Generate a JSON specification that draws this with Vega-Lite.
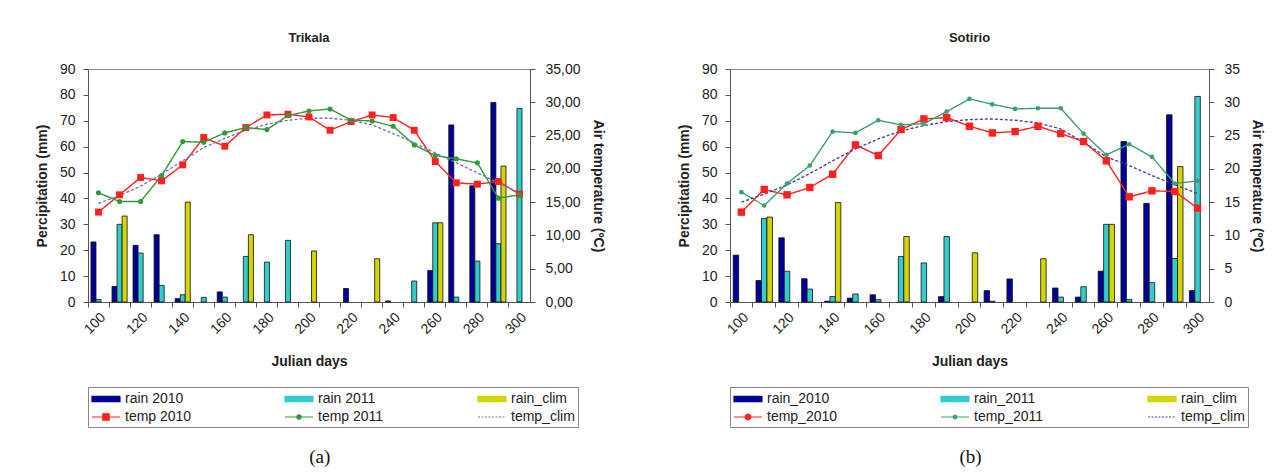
{
  "$schema": "https://vega.github.io/schema/vega-lite/v6.json",
  "background": "white",
  "padding": {"left": 34, "top": 31, "right": 5, "bottom": 0},
  "spacing": 71,
  "config": {
    "font": "Liberation Sans",
    "view": {"stroke": "#8a8a8a", "strokeWidth": 1},
    "axis": {
      "labelFont": "Liberation Sans", "labelFontSize": 14, "labelColor": "#222",
      "titleFont": "Liberation Sans", "titleFontSize": 14, "titleFontWeight": "bold", "titleColor": "#222",
      "domainColor": "#555", "tickColor": "#555", "grid": false, "tickSize": 5
    },
    "legend": {
      "orient": "bottom", "direction": "horizontal", "columns": 3, "gridAlign": "all",
      "symbolSize": 256, "symbolStrokeWidth": 1.2, "labelFont": "Liberation Sans", "labelFontSize": 14,
      "labelColor": "#222", "strokeColor": "#888", "padding": 3, "rowPadding": 2, "labelOffset": 16,
      "offset": 18
    },
    "title": {"font": "Liberation Sans", "fontSize": 13, "fontWeight": "bold", "color": "#222", "offset": 17}
  },
  "datasets": {
    "trikala_rain": [
      {"day": 100, "series": "rain 2010", "value": 23.2}, {"day": 100, "series": "rain 2011", "value": 1.0},
      {"day": 110, "series": "rain 2010", "value": 6.0}, {"day": 110, "series": "rain 2011", "value": 30.0}, {"day": 110, "series": "rain_clim", "value": 33.2},
      {"day": 120, "series": "rain 2010", "value": 21.9}, {"day": 120, "series": "rain 2011", "value": 18.9},
      {"day": 130, "series": "rain 2010", "value": 26.0}, {"day": 130, "series": "rain 2011", "value": 6.4},
      {"day": 140, "series": "rain 2010", "value": 1.3}, {"day": 140, "series": "rain 2011", "value": 2.8}, {"day": 140, "series": "rain_clim", "value": 38.6},
      {"day": 150, "series": "rain 2011", "value": 1.8},
      {"day": 160, "series": "rain 2010", "value": 3.9}, {"day": 160, "series": "rain 2011", "value": 1.9},
      {"day": 170, "series": "rain 2011", "value": 17.6}, {"day": 170, "series": "rain_clim", "value": 26.0},
      {"day": 180, "series": "rain 2011", "value": 15.4},
      {"day": 190, "series": "rain 2011", "value": 23.8},
      {"day": 200, "series": "rain_clim", "value": 19.7},
      {"day": 220, "series": "rain 2010", "value": 5.2},
      {"day": 230, "series": "rain_clim", "value": 16.7},
      {"day": 240, "series": "rain 2010", "value": 0.4},
      {"day": 250, "series": "rain 2011", "value": 8.1},
      {"day": 260, "series": "rain 2010", "value": 12.2}, {"day": 260, "series": "rain 2011", "value": 30.6}, {"day": 260, "series": "rain_clim", "value": 30.6},
      {"day": 270, "series": "rain 2010", "value": 68.4}, {"day": 270, "series": "rain 2011", "value": 1.9},
      {"day": 280, "series": "rain 2010", "value": 44.9}, {"day": 280, "series": "rain 2011", "value": 15.8},
      {"day": 290, "series": "rain 2010", "value": 77.1}, {"day": 290, "series": "rain 2011", "value": 22.5}, {"day": 290, "series": "rain_clim", "value": 52.5},
      {"day": 300, "series": "rain 2011", "value": 74.8}
    ],
    "trikala_temp": [
      {"day": 100, "series": "temp 2010", "t": 13.5}, {"day": 110, "series": "temp 2010", "t": 16.1}, {"day": 120, "series": "temp 2010", "t": 18.7},
      {"day": 130, "series": "temp 2010", "t": 18.2}, {"day": 140, "series": "temp 2010", "t": 20.6}, {"day": 150, "series": "temp 2010", "t": 24.7},
      {"day": 160, "series": "temp 2010", "t": 23.4}, {"day": 170, "series": "temp 2010", "t": 26.2}, {"day": 180, "series": "temp 2010", "t": 28.1},
      {"day": 190, "series": "temp 2010", "t": 28.2}, {"day": 200, "series": "temp 2010", "t": 27.8}, {"day": 210, "series": "temp 2010", "t": 25.8},
      {"day": 220, "series": "temp 2010", "t": 27.1}, {"day": 230, "series": "temp 2010", "t": 28.1}, {"day": 240, "series": "temp 2010", "t": 27.7},
      {"day": 250, "series": "temp 2010", "t": 25.8}, {"day": 260, "series": "temp 2010", "t": 21.1}, {"day": 270, "series": "temp 2010", "t": 17.9},
      {"day": 280, "series": "temp 2010", "t": 17.7}, {"day": 290, "series": "temp 2010", "t": 18.1}, {"day": 300, "series": "temp 2010", "t": 16.2},
      {"day": 100, "series": "temp 2011", "t": 16.4}, {"day": 110, "series": "temp 2011", "t": 15.1}, {"day": 120, "series": "temp 2011", "t": 15.1},
      {"day": 130, "series": "temp 2011", "t": 19.0}, {"day": 140, "series": "temp 2011", "t": 24.1}, {"day": 150, "series": "temp 2011", "t": 24.0},
      {"day": 160, "series": "temp 2011", "t": 25.4}, {"day": 170, "series": "temp 2011", "t": 26.2}, {"day": 180, "series": "temp 2011", "t": 25.9},
      {"day": 190, "series": "temp 2011", "t": 28.0}, {"day": 200, "series": "temp 2011", "t": 28.7}, {"day": 210, "series": "temp 2011", "t": 29.0},
      {"day": 220, "series": "temp 2011", "t": 27.3}, {"day": 230, "series": "temp 2011", "t": 27.2}, {"day": 240, "series": "temp 2011", "t": 26.4},
      {"day": 250, "series": "temp 2011", "t": 23.6}, {"day": 260, "series": "temp 2011", "t": 22.0}, {"day": 270, "series": "temp 2011", "t": 21.5},
      {"day": 280, "series": "temp 2011", "t": 20.9}, {"day": 290, "series": "temp 2011", "t": 15.6}, {"day": 300, "series": "temp 2011", "t": 16.1},
      {"day": 100, "series": "temp_clim", "t": 14.8}, {"day": 110, "series": "temp_clim", "t": 16.0}, {"day": 120, "series": "temp_clim", "t": 17.4},
      {"day": 130, "series": "temp_clim", "t": 19.2}, {"day": 140, "series": "temp_clim", "t": 21.2}, {"day": 150, "series": "temp_clim", "t": 23.2},
      {"day": 160, "series": "temp_clim", "t": 24.6}, {"day": 170, "series": "temp_clim", "t": 25.8}, {"day": 180, "series": "temp_clim", "t": 26.7},
      {"day": 190, "series": "temp_clim", "t": 27.3}, {"day": 200, "series": "temp_clim", "t": 27.6}, {"day": 210, "series": "temp_clim", "t": 27.6},
      {"day": 220, "series": "temp_clim", "t": 27.3}, {"day": 230, "series": "temp_clim", "t": 26.6}, {"day": 240, "series": "temp_clim", "t": 25.3},
      {"day": 250, "series": "temp_clim", "t": 23.9}, {"day": 260, "series": "temp_clim", "t": 22.4}, {"day": 270, "series": "temp_clim", "t": 20.9},
      {"day": 280, "series": "temp_clim", "t": 19.4}, {"day": 290, "series": "temp_clim", "t": 17.9}, {"day": 300, "series": "temp_clim", "t": 16.4}
    ],
    "sotirio_rain": [
      {"day": 100, "series": "rain_2010", "value": 18.1},
      {"day": 110, "series": "rain_2010", "value": 8.3}, {"day": 110, "series": "rain_2011", "value": 32.3}, {"day": 110, "series": "rain_clim", "value": 32.8},
      {"day": 120, "series": "rain_2010", "value": 24.8}, {"day": 120, "series": "rain_2011", "value": 11.9},
      {"day": 130, "series": "rain_2010", "value": 9.0}, {"day": 130, "series": "rain_2011", "value": 5.0},
      {"day": 140, "series": "rain_2010", "value": 0.3}, {"day": 140, "series": "rain_2011", "value": 2.1}, {"day": 140, "series": "rain_clim", "value": 38.4},
      {"day": 150, "series": "rain_2010", "value": 1.5}, {"day": 150, "series": "rain_2011", "value": 3.1},
      {"day": 160, "series": "rain_2010", "value": 2.8}, {"day": 160, "series": "rain_2011", "value": 0.9},
      {"day": 170, "series": "rain_2011", "value": 17.6}, {"day": 170, "series": "rain_clim", "value": 25.3},
      {"day": 180, "series": "rain_2011", "value": 15.1},
      {"day": 190, "series": "rain_2010", "value": 2.1}, {"day": 190, "series": "rain_2011", "value": 25.3},
      {"day": 200, "series": "rain_clim", "value": 19.0},
      {"day": 210, "series": "rain_2010", "value": 4.4}, {"day": 210, "series": "rain_2011", "value": 0.3},
      {"day": 220, "series": "rain_2010", "value": 8.9},
      {"day": 230, "series": "rain_clim", "value": 16.7},
      {"day": 240, "series": "rain_2010", "value": 5.4}, {"day": 240, "series": "rain_2011", "value": 1.9},
      {"day": 250, "series": "rain_2010", "value": 1.9}, {"day": 250, "series": "rain_2011", "value": 5.9},
      {"day": 260, "series": "rain_2010", "value": 11.9}, {"day": 260, "series": "rain_2011", "value": 30.0}, {"day": 260, "series": "rain_clim", "value": 30.0},
      {"day": 270, "series": "rain_2010", "value": 62.0}, {"day": 270, "series": "rain_2011", "value": 1.0},
      {"day": 280, "series": "rain_2010", "value": 38.1}, {"day": 280, "series": "rain_2011", "value": 7.5},
      {"day": 290, "series": "rain_2010", "value": 72.3}, {"day": 290, "series": "rain_2011", "value": 16.8}, {"day": 290, "series": "rain_clim", "value": 52.3},
      {"day": 300, "series": "rain_2010", "value": 4.4}, {"day": 300, "series": "rain_2011", "value": 79.4}
    ],
    "sotirio_temp": [
      {"day": 100, "series": "temp_2010", "t": 13.5}, {"day": 110, "series": "temp_2010", "t": 16.9}, {"day": 120, "series": "temp_2010", "t": 16.1},
      {"day": 130, "series": "temp_2010", "t": 17.2}, {"day": 140, "series": "temp_2010", "t": 19.2}, {"day": 150, "series": "temp_2010", "t": 23.6},
      {"day": 160, "series": "temp_2010", "t": 22.0}, {"day": 170, "series": "temp_2010", "t": 25.9}, {"day": 180, "series": "temp_2010", "t": 27.5},
      {"day": 190, "series": "temp_2010", "t": 27.7}, {"day": 200, "series": "temp_2010", "t": 26.4}, {"day": 210, "series": "temp_2010", "t": 25.4},
      {"day": 220, "series": "temp_2010", "t": 25.6}, {"day": 230, "series": "temp_2010", "t": 26.4}, {"day": 240, "series": "temp_2010", "t": 25.3},
      {"day": 250, "series": "temp_2010", "t": 24.1}, {"day": 260, "series": "temp_2010", "t": 21.2}, {"day": 270, "series": "temp_2010", "t": 15.8},
      {"day": 280, "series": "temp_2010", "t": 16.7}, {"day": 290, "series": "temp_2010", "t": 16.6}, {"day": 300, "series": "temp_2010", "t": 14.1},
      {"day": 100, "series": "temp_2011", "t": 16.5}, {"day": 110, "series": "temp_2011", "t": 14.5}, {"day": 120, "series": "temp_2011", "t": 17.8},
      {"day": 130, "series": "temp_2011", "t": 20.5}, {"day": 140, "series": "temp_2011", "t": 25.6}, {"day": 150, "series": "temp_2011", "t": 25.4},
      {"day": 160, "series": "temp_2011", "t": 27.3}, {"day": 170, "series": "temp_2011", "t": 26.6}, {"day": 180, "series": "temp_2011", "t": 26.8},
      {"day": 190, "series": "temp_2011", "t": 28.6}, {"day": 200, "series": "temp_2011", "t": 30.5}, {"day": 210, "series": "temp_2011", "t": 29.7},
      {"day": 220, "series": "temp_2011", "t": 29.0}, {"day": 230, "series": "temp_2011", "t": 29.1}, {"day": 240, "series": "temp_2011", "t": 29.1},
      {"day": 250, "series": "temp_2011", "t": 25.3}, {"day": 260, "series": "temp_2011", "t": 22.1}, {"day": 270, "series": "temp_2011", "t": 23.7},
      {"day": 280, "series": "temp_2011", "t": 21.8}, {"day": 290, "series": "temp_2011", "t": 17.8}, {"day": 300, "series": "temp_2011", "t": 18.2},
      {"day": 100, "series": "temp_clim", "t": 15.0}, {"day": 110, "series": "temp_clim", "t": 16.2}, {"day": 120, "series": "temp_clim", "t": 17.6},
      {"day": 130, "series": "temp_clim", "t": 19.3}, {"day": 140, "series": "temp_clim", "t": 21.2}, {"day": 150, "series": "temp_clim", "t": 23.0},
      {"day": 160, "series": "temp_clim", "t": 24.5}, {"day": 170, "series": "temp_clim", "t": 25.7}, {"day": 180, "series": "temp_clim", "t": 26.5},
      {"day": 190, "series": "temp_clim", "t": 27.1}, {"day": 200, "series": "temp_clim", "t": 27.4}, {"day": 210, "series": "temp_clim", "t": 27.5},
      {"day": 220, "series": "temp_clim", "t": 27.3}, {"day": 230, "series": "temp_clim", "t": 26.9}, {"day": 240, "series": "temp_clim", "t": 26.0},
      {"day": 250, "series": "temp_clim", "t": 24.0}, {"day": 260, "series": "temp_clim", "t": 21.8}, {"day": 270, "series": "temp_clim", "t": 20.5},
      {"day": 280, "series": "temp_clim", "t": 19.0}, {"day": 290, "series": "temp_clim", "t": 17.6}, {"day": 300, "series": "temp_clim", "t": 16.3}
    ]
  },
  "hconcat": [
    {
      "title": {"text": "(a)", "orient": "bottom", "anchor": "middle", "font": "Liberation Serif", "fontSize": 19, "fontWeight": "normal", "color": "#111", "offset": 20},
      "vconcat": [
        {
          "title": {"text": "Trikala"},
          "width": 442, "height": 233,
          "layer": [
            {
              "data": {"name": "trikala_rain"},
              "mark": {"type": "bar", "stroke": "#111", "strokeWidth": 0.8},
              "encoding": {
                "x": {"field": "day", "type": "ordinal", "title": "Julian days",
                  "scale": {"domain": [100,110,120,130,140,150,160,170,180,190,200,210,220,230,240,250,260,270,280,290,300], "paddingInner": 0.28, "paddingOuter": 0.14},
                  "axis": {"orient": "bottom", "values": [100,120,140,160,180,200,220,240,260,280,300], "labelAngle": -45, "ticks": false, "labelPadding": 8, "titlePadding": 18}},
                "xOffset": {"field": "series", "type": "nominal", "scale": {"domain": ["rain 2010", "rain 2011", "rain_clim"]}},
                "y": {"field": "value", "type": "quantitative", "title": "Percipitation (mm)",
                  "scale": {"domain": [0, 90]},
                  "axis": {"values": [0,10,20,30,40,50,60,70,80,90], "labelPadding": 8, "titlePadding": 10}},
                "color": {"field": "series", "type": "nominal",
                  "scale": {"domain": ["rain 2010", "rain 2011", "rain_clim", "temp 2010", "temp 2011", "temp_clim"], "range": ["#000099", "#33CCCC", "#D4D40A", "#FF2020", "#2E9A3A", "#7777AA"]},
                  "legend": {"title": null, "columnPadding": 90,
                    "encode": {"symbols": {"update": {
                      "shape": {"signal": "['M-1,-0.33H2.5V0.33H-1Z','M-1,-0.33H2.5V0.33H-1Z','M-1,-0.33H2.5V0.33H-1Z','M-1,0H2.5M0.35,-0.4H1.15V0.4H0.35Z','M-1,0H2.5M0.48,0A0.27,0.27 0 1,0 1.02,0A0.27,0.27 0 1,0 0.48,0','M-1,0H2.5'][datum.index]"},
                      "fill": {"signal": "['#000099','#33CCCC','#FFFF00','#FF0000','#2E9A3A','transparent'][datum.index]"},
                      "stroke": {"signal": "['#000044','#114444','#444400','#FF3333','#2E9A3A','#7777AA'][datum.index]"},
                      "strokeDash": {"signal": "datum.index == 5 ? [2, 1.5] : [1, 0]"},
                      "opacity": {"value": 1}, "fillOpacity": {"value": 1}, "strokeOpacity": {"value": 1}
                    }}}}}
              }
            },
            {
              "data": {"name": "trikala_temp"},
              "encoding": {
                "x": {"field": "day", "type": "ordinal",
                  "axis": {"orient": "bottom", "labels": false, "title": null, "domain": false, "ticks": true, "bandPosition": -0.1944}},
                "y": {"field": "t", "type": "quantitative", "title": "Air temperature (ºC)",
                  "scale": {"domain": [0, 35]},
                  "axis": {"orient": "right", "values": [0,5,10,15,20,25,30,35], "labelExpr": "replace(format(datum.value, '.2f'), '.', ',')", "labelPadding": 10, "titlePadding": 10}},
                "color": {"field": "series", "type": "nominal",
                  "scale": {"domain": ["rain 2010", "rain 2011", "rain_clim", "temp 2010", "temp 2011", "temp_clim"], "range": ["#000099", "#33CCCC", "#D4D40A", "#FF2020", "#2E9A3A", "#7777AA"]},
                  "legend": {"title": null, "columnPadding": 90,
                    "encode": {"symbols": {"update": {
                      "shape": {"signal": "['M-1,-0.33H2.5V0.33H-1Z','M-1,-0.33H2.5V0.33H-1Z','M-1,-0.33H2.5V0.33H-1Z','M-1,0H2.5M0.35,-0.4H1.15V0.4H0.35Z','M-1,0H2.5M0.48,0A0.27,0.27 0 1,0 1.02,0A0.27,0.27 0 1,0 0.48,0','M-1,0H2.5'][datum.index]"},
                      "fill": {"signal": "['#000099','#33CCCC','#FFFF00','#FF0000','#2E9A3A','transparent'][datum.index]"},
                      "stroke": {"signal": "['#000044','#114444','#444400','#FF3333','#2E9A3A','#7777AA'][datum.index]"},
                      "strokeDash": {"signal": "datum.index == 5 ? [2, 1.5] : [1, 0]"},
                      "opacity": {"value": 1}, "fillOpacity": {"value": 1}, "strokeOpacity": {"value": 1}
                    }}}}}
              },
              "layer": [
                {
                  "mark": {"type": "line", "strokeWidth": 1.4},
                  "encoding": {
                    "strokeDash": {"field": "series", "type": "nominal", "legend": null,
                      "scale": {"domain": ["temp 2010", "temp 2011", "temp_clim"], "range": [[1, 0], [1, 0], [3, 2]]}}
                  }
                },
                {
                  "transform": [{"filter": "datum.series != 'temp_clim'"}],
                  "mark": {"type": "point", "filled": true, "opacity": 1},
                  "encoding": {
                    "shape": {"field": "series", "type": "nominal", "legend": null,
                      "scale": {"domain": ["temp 2010", "temp 2011"], "range": ["square", "circle"]}},
                    "size": {"field": "series", "type": "nominal", "legend": null,
                      "scale": {"domain": ["temp 2010", "temp 2011"], "range": [48, 26]}}
                  }
                }
              ]
            }
          ],
          "resolve": {"scale": {"y": "independent"}, "axis": {"x": "independent"}}
        }
      ]
    },
    {
      "title": {"text": "(b)", "orient": "bottom", "anchor": "middle", "font": "Liberation Serif", "fontSize": 19, "fontWeight": "normal", "color": "#111", "offset": 20},
      "vconcat": [
        {
          "title": {"text": "Sotirio"},
          "width": 479, "height": 233,
          "layer": [
            {
              "data": {"name": "sotirio_rain"},
              "mark": {"type": "bar", "stroke": "#111", "strokeWidth": 0.8},
              "encoding": {
                "x": {"field": "day", "type": "ordinal", "title": "Julian days",
                  "scale": {"domain": [100,110,120,130,140,150,160,170,180,190,200,210,220,230,240,250,260,270,280,290,300], "paddingInner": 0.28, "paddingOuter": 0.14},
                  "axis": {"orient": "bottom", "values": [100,120,140,160,180,200,220,240,260,280,300], "labelAngle": -45, "ticks": false, "labelPadding": 8, "titlePadding": 18}},
                "xOffset": {"field": "series", "type": "nominal", "scale": {"domain": ["rain_2010", "rain_2011", "rain_clim"]}},
                "y": {"field": "value", "type": "quantitative", "title": "Percipitation (mm)",
                  "scale": {"domain": [0, 90]},
                  "axis": {"values": [0,10,20,30,40,50,60,70,80,90], "labelPadding": 8, "titlePadding": 10}},
                "color": {"field": "series", "type": "nominal",
                  "scale": {"domain": ["rain_2010", "rain_2011", "rain_clim", "temp_2010", "temp_2011", "temp_clim"], "range": ["#000099", "#33CCCC", "#D4D40A", "#FF2020", "#3AA070", "#444499"]},
                  "legend": {"title": null, "columnPadding": 100,
                    "encode": {"symbols": {"update": {
                      "shape": {"signal": "['M-1,-0.33H2.5V0.33H-1Z','M-1,-0.33H2.5V0.33H-1Z','M-1,-0.33H2.5V0.33H-1Z','M-1,0H2.5M0.4,0A0.35,0.35 0 1,0 1.1,0A0.35,0.35 0 1,0 0.4,0','M-1,0H2.5M0.52,0A0.23,0.23 0 1,0 0.98,0A0.23,0.23 0 1,0 0.52,0','M-1,0H2.5'][datum.index]"},
                      "fill": {"signal": "['#000099','#33CCCC','#FFFF00','#FF0000','#2E8B57','transparent'][datum.index]"},
                      "stroke": {"signal": "['#000044','#114444','#444400','#FF5555','#66BB88','#6666AA'][datum.index]"},
                      "strokeDash": {"signal": "datum.index == 5 ? [2, 1.5] : [1, 0]"},
                      "opacity": {"value": 1}, "fillOpacity": {"value": 1}, "strokeOpacity": {"value": 1}
                    }}}}}
              }
            },
            {
              "data": {"name": "sotirio_temp"},
              "encoding": {
                "x": {"field": "day", "type": "ordinal",
                  "axis": {"orient": "bottom", "labels": false, "title": null, "domain": false, "ticks": true, "bandPosition": -0.1944}},
                "y": {"field": "t", "type": "quantitative", "title": "Air temperature (ºC)",
                  "scale": {"domain": [0, 35]},
                  "axis": {"orient": "right", "values": [0,5,10,15,20,25,30,35], "labelPadding": 10, "titlePadding": 10}},
                "color": {"field": "series", "type": "nominal",
                  "scale": {"domain": ["rain_2010", "rain_2011", "rain_clim", "temp_2010", "temp_2011", "temp_clim"], "range": ["#000099", "#33CCCC", "#D4D40A", "#FF2020", "#3AA070", "#444499"]},
                  "legend": {"title": null, "columnPadding": 100,
                    "encode": {"symbols": {"update": {
                      "shape": {"signal": "['M-1,-0.33H2.5V0.33H-1Z','M-1,-0.33H2.5V0.33H-1Z','M-1,-0.33H2.5V0.33H-1Z','M-1,0H2.5M0.4,0A0.35,0.35 0 1,0 1.1,0A0.35,0.35 0 1,0 0.4,0','M-1,0H2.5M0.52,0A0.23,0.23 0 1,0 0.98,0A0.23,0.23 0 1,0 0.52,0','M-1,0H2.5'][datum.index]"},
                      "fill": {"signal": "['#000099','#33CCCC','#FFFF00','#FF0000','#2E8B57','transparent'][datum.index]"},
                      "stroke": {"signal": "['#000044','#114444','#444400','#FF5555','#66BB88','#6666AA'][datum.index]"},
                      "strokeDash": {"signal": "datum.index == 5 ? [2, 1.5] : [1, 0]"},
                      "opacity": {"value": 1}, "fillOpacity": {"value": 1}, "strokeOpacity": {"value": 1}
                    }}}}}
              },
              "layer": [
                {
                  "mark": {"type": "line", "strokeWidth": 1.4},
                  "encoding": {
                    "strokeDash": {"field": "series", "type": "nominal", "legend": null,
                      "scale": {"domain": ["temp_2010", "temp_2011", "temp_clim"], "range": [[1, 0], [1, 0], [3, 2]]}}
                  }
                },
                {
                  "transform": [{"filter": "datum.series != 'temp_clim'"}],
                  "mark": {"type": "point", "filled": true, "opacity": 1},
                  "encoding": {
                    "shape": {"field": "series", "type": "nominal", "legend": null,
                      "scale": {"domain": ["temp_2010", "temp_2011"], "range": ["square", "circle"]}},
                    "size": {"field": "series", "type": "nominal", "legend": null,
                      "scale": {"domain": ["temp_2010", "temp_2011"], "range": [55, 22]}}
                  }
                }
              ]
            }
          ],
          "resolve": {"scale": {"y": "independent"}, "axis": {"x": "independent"}}
        }
      ]
    }
  ],
  "resolve": {"scale": {"x": "independent", "y": "independent", "xOffset": "independent", "color": "independent", "shape": "independent", "size": "independent", "strokeDash": "independent"}, "legend": {"color": "independent"}}
}
